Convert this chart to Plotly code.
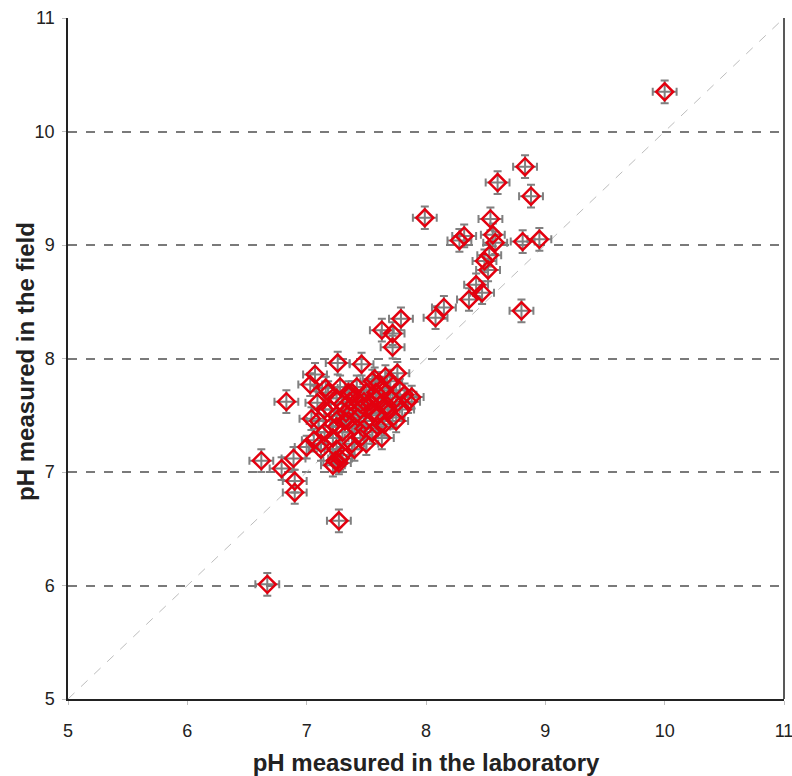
import plotly.graph_objects as go

# pH measured in the laboratory (x) and in the field (y)
lab_ph = [
    10.0, 8.83, 8.6, 8.88, 7.99, 8.54, 8.28, 8.32, 8.56, 8.58, 8.81, 8.95,
    8.49, 8.53, 8.52, 8.42, 8.47, 8.36, 8.15, 8.08, 8.8, 7.79, 7.63, 7.72,
    7.72, 7.26, 7.46, 7.07, 7.03, 6.83, 7.09, 7.04, 6.62, 6.79, 6.89, 6.9,
    6.9, 7.0, 7.06, 7.12, 7.24, 7.22, 7.88, 7.57, 7.76, 7.27, 6.67,
    # dense cluster
    7.10, 7.15, 7.18, 7.20, 7.22, 7.25, 7.25, 7.28, 7.30, 7.30, 7.32, 7.35,
    7.35, 7.38, 7.40, 7.40, 7.42, 7.45, 7.45, 7.48, 7.50, 7.50, 7.52, 7.55,
    7.55, 7.58, 7.60, 7.60, 7.62, 7.65, 7.65, 7.68, 7.70, 7.72, 7.75, 7.78,
    7.80, 7.82, 7.70, 7.25, 7.30, 7.40, 7.50, 7.45, 7.35, 7.20, 7.15, 7.12,
    7.60, 7.75, 7.85, 7.16, 7.25, 7.33, 7.43, 7.53, 7.63, 7.38, 7.48, 7.58,
    7.68, 7.28, 7.36, 7.27, 7.55, 7.66,
]
field_ph = [
    10.35, 9.69, 9.55, 9.43, 9.24, 9.23, 9.04, 9.08, 9.09, 9.02, 9.03, 9.05,
    8.86, 8.91, 8.78, 8.65, 8.58, 8.52, 8.45, 8.36, 8.42, 8.35, 8.25, 8.22,
    8.10, 7.96, 7.95, 7.86, 7.77, 7.62, 7.61, 7.47, 7.10, 7.03, 7.12, 6.92,
    6.82, 7.22, 7.28, 7.20, 7.10, 7.06, 7.66, 7.82, 7.87, 6.57, 6.01,
    # dense cluster
    7.45, 7.55, 7.70, 7.40, 7.30, 7.65, 7.50, 7.75, 7.60, 7.35, 7.45, 7.70,
    7.55, 7.25, 7.65, 7.40, 7.75, 7.55, 7.30, 7.62, 7.70, 7.45, 7.58, 7.80,
    7.35, 7.65, 7.50, 7.78, 7.60, 7.72, 7.42, 7.55, 7.65, 7.48, 7.60, 7.72,
    7.55, 7.68, 7.80, 7.20, 7.15, 7.20, 7.25, 7.60, 7.45, 7.55, 7.35, 7.25,
    7.40, 7.45, 7.62, 7.74, 7.40, 7.52, 7.48, 7.62, 7.30, 7.70, 7.38, 7.70,
    7.58, 7.12, 7.62, 7.08, 7.52, 7.84,
]
err_lab = 0.1
err_field = 0.1

tick_vals = [5, 6, 7, 8, 9, 10, 11]
diag = [5, 11]
x_title = "pH measured in the laboratory"
y_title = "pH measured in the field"

fig = go.Figure()
fig.add_trace(go.Scatter(
    x=diag, y=diag, mode="lines",
    line=dict(color="#bdbdbd", width=1, dash="dash"),
    hoverinfo="skip", showlegend=False,
))
fig.add_trace(go.Scatter(
    x=lab_ph, y=field_ph, mode="markers",
    marker=dict(symbol="diamond-open", size=13, color="#e3000f",
                line=dict(color="#e3000f", width=2.5)),
    error_x=dict(type="constant", value=err_lab, color="#808080", thickness=2, width=4),
    error_y=dict(type="constant", value=err_field, color="#808080", thickness=2, width=4),
    showlegend=False,
))

axis_common = dict(
    range=[5, 11], tickvals=tick_vals, ticks="outside", ticklen=4,
    tickcolor="#bfbfbf", tickwidth=1, automargin=False,
    ticklabeloverflow="allow",
    tickfont=dict(family="Liberation Sans, Arial", size=18, color="#222"),
    showline=True, linecolor="#222", linewidth=1.5, zeroline=False,
)
title_font = dict(family="Liberation Sans, Arial", size=24, color="#222")

fig.update_layout(
    width=792, height=776,
    margin=dict(l=68, r=8, t=18, b=77),
    paper_bgcolor="white", plot_bgcolor="white",
    xaxis=dict(**axis_common, showgrid=False, ticklabelstandoff=11,
               title=dict(text=f"<b>{x_title}</b>", standoff=16, font=title_font)),
    yaxis=dict(**axis_common, showgrid=True, gridcolor="#7a7a7a", griddash="dash", gridwidth=1.5,
               ticklabelstandoff=4),
    annotations=[dict(text=f"<b>{y_title}</b>", xref="paper", yref="paper",
                      x=0, y=0.495, xshift=-42, xanchor="center", yanchor="middle",
                      textangle=-90, showarrow=False, font=title_font)],
    shapes=[dict(type="line", xref="paper", yref="paper", x0=1, x1=1, y0=0, y1=1,
                 line=dict(color="#222", width=1.5))],
)

fig.write_html("out.html", config={"displayModeBar": False},
               post_script="document.body.style.margin='0';document.body.style.overflow='hidden';")
